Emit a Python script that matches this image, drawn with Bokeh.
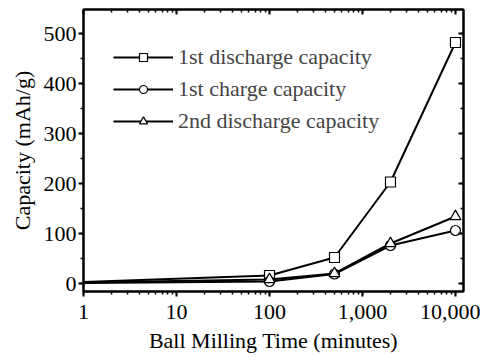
from bokeh.plotting import figure
from bokeh.models import (Range1d, LogAxis, LinearAxis, LogTicker, SingleIntervalTicker,
                          NumeralTickFormatter, Legend, LegendItem)
from bokeh.embed import file_html
from bokeh.resources import INLINE

# Data
time_min = [1, 100, 500, 2000, 10000]
first_discharge = [3, 16, 52, 203, 482]
first_charge = [1, 4, 19, 76, 106]
second_discharge = [2, 8, 20, 80, 134]
series_names = ["1st discharge capacity", "1st charge capacity", "2nd discharge capacity"]
x_title = "Ball Milling Time (minutes)"
y_title = "Capacity (mAh/g)"

FONT = "Liberation Serif"

p = figure(width=480, height=357, x_axis_type="log",
           x_range=Range1d(1, 12200), y_range=Range1d(-16, 548),
           output_backend="svg", toolbar_location=None,
           min_border_left=83, min_border_right=17, min_border_top=9, min_border_bottom=66)
p.grid.visible = False
p.outline_line_color = "black"
p.outline_line_width = 2
p.background_fill_color = "white"
p.border_fill_color = "white"

def style_axis(ax, show_labels, out):
    ax.axis_line_width = 2
    ax.axis_line_color = "black"
    ax.major_tick_line_width = 2
    ax.minor_tick_line_width = 1.5
    if out:
        ax.major_tick_out = 5
        ax.major_tick_in = 0
        ax.minor_tick_out = 3
        ax.minor_tick_in = 0
    else:
        ax.major_tick_out = 0
        ax.major_tick_in = 5
        ax.minor_tick_out = 0
        ax.minor_tick_in = 3
    if show_labels:
        ax.major_label_text_font = FONT
        ax.major_label_text_font_size = "22px"
        ax.major_label_text_color = "black"
        ax.axis_label_text_font = FONT
        ax.axis_label_text_font_size = "22px"
        ax.axis_label_text_font_style = "normal"
        ax.axis_label_text_color = "black"
    else:
        ax.major_label_text_font_size = "1px"
        ax.major_label_text_alpha = 0
        ax.major_label_standoff = 0

xa = p.xaxis[0]
xa.ticker = LogTicker(num_minor_ticks=10)
xa.formatter = NumeralTickFormatter(format="0,0")
xa.axis_label = x_title
style_axis(xa, True, True)
xa.major_label_standoff = 8
xa.axis_label_standoff = 6

ya = p.yaxis[0]
ya.ticker = SingleIntervalTicker(interval=100, num_minor_ticks=2)
ya.axis_label = y_title
style_axis(ya, True, True)
ya.major_label_standoff = 2
ya.axis_label_standoff = 6

top = LogAxis(ticker=LogTicker(num_minor_ticks=10))
style_axis(top, False, False)
p.add_layout(top, "above")
right = LinearAxis(ticker=SingleIntervalTicker(interval=100, num_minor_ticks=2))
style_axis(right, False, False)
p.add_layout(right, "right")

items = []
series = [(first_discharge, "square", 10), (first_charge, "circle", 10), (second_discharge, "triangle", 11)]
for (vals, marker, size), name in zip(series, series_names):
    l = p.line(time_min, vals, line_color="black", line_width=2)
    s = p.scatter(time_min[1:], vals[1:], marker=marker, size=size,
                  fill_color="white", line_color="black", line_width=1.2)
    items.append(LegendItem(label=name, renderers=[l, s]))

legend = Legend(items=items, location=(30, 157), padding=0, margin=0,
                border_line_color=None, background_fill_alpha=0,
                glyph_width=60, glyph_height=20, label_height=20, spacing=6,
                label_standoff=5, label_text_font=FONT, label_text_font_size="22px")
p.add_layout(legend, "center")

open("out.html", "w").write(file_html(p, INLINE))
